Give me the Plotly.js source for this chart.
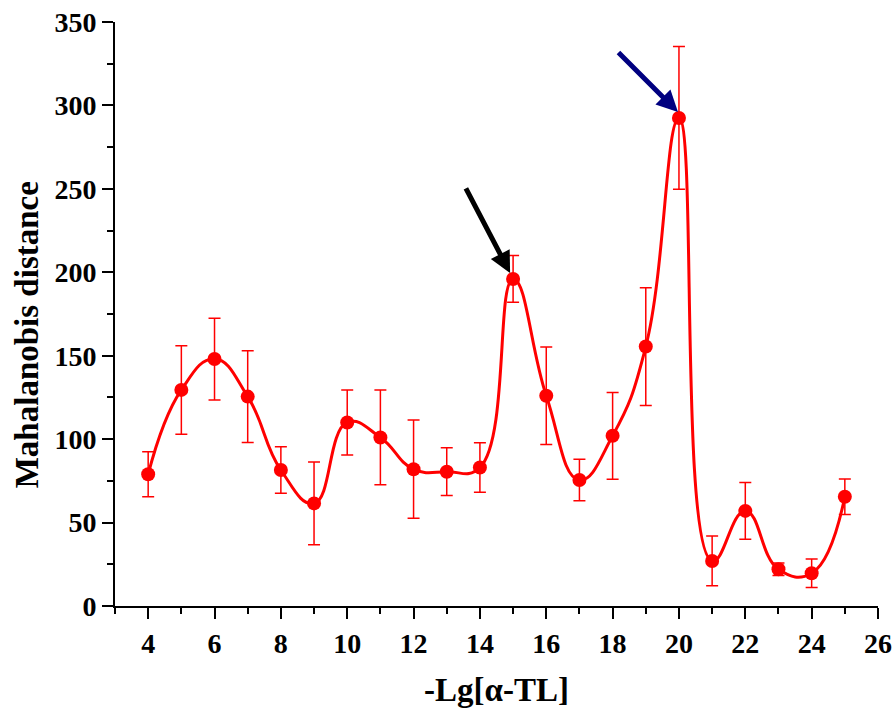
<!DOCTYPE html>
<html>
<head>
<meta charset="utf-8">
<script src="https://cdn.plot.ly/plotly-3.0.1.min.js"></script>
<style>html,body{margin:0;padding:0;background:#fff;}#chart{width:893px;height:708px;}</style>
</head>
<body>
<div id="chart"></div>
<script>
const xValues = [4,5,6,7,8,9,10,11,12,13,14,15,16,17,18,19,20,21,22,23,24,25];
const distance = [79,129.5,148,125.5,81.5,61.5,110,101,82,80.5,83,196,126,75.5,102,155.5,292.5,27,57,22,19.6,65.5];
const errors = [13.5,26.5,24.5,27.5,14,24.8,19.5,28.4,29.4,14.3,14.8,14,29.2,12.4,26,35.3,42.8,14.9,17,3.7,8.5,10.6];
const xTickVals = [4,6,8,10,12,14,16,18,20,22,24,26];
const yTickVals = [0,50,100,150,200,250,300,350];

const font = "'Liberation Serif', 'Times New Roman', serif";
const trace = {
  x: xValues, y: distance, type: 'scatter', mode: 'lines+markers',
  line: {color: '#ff0000', width: 3, shape: 'spline', smoothing: 1.3},
  marker: {color: '#ff0000', size: 14, symbol: 'circle'},
  error_y: {type: 'data', array: errors, visible: true, color: '#ff0000', thickness: 1.5, width: 6},
  hoverinfo: 'x+y'
};
const axisCommon = {
  showline: true, linecolor: '#000', linewidth: 2, ticks: 'outside', ticklen: 11,
  tickwidth: 2, tickcolor: '#000', showgrid: false, zeroline: false, mirror: false,
  tickfont: {family: font, size: 28, color: '#000', weight: 'bold'}
};
const layout = {
  width: 893, height: 708,
  margin: {l: 115, r: 15, t: 22, b: 102},
  paper_bgcolor: '#fff', plot_bgcolor: '#fff',
  showlegend: false,
  xaxis: Object.assign({}, axisCommon, {
    range: [3, 26], tickvals: xTickVals, ticktext: xTickVals.map(String),
    minor: {dtick: 1, tick0: 3, ticks: 'outside', ticklen: 6, tickwidth: 2, tickcolor: '#000'},
    title: {text: '-Lg[α-TL]', font: {family: font, size: 33, color: '#000', weight: 'bold'}, standoff: 24}
  }),
  yaxis: Object.assign({}, axisCommon, {
    range: [0, 350], tickvals: yTickVals, ticktext: yTickVals.map(String),
    minor: {dtick: 25, tick0: 0, ticks: 'outside', ticklen: 6, tickwidth: 2, tickcolor: '#000'}
  }),
  annotations: [
    {text: 'Mahalanobis distance', xref: 'paper', yref: 'paper', x: -0.115, y: 0.464,
     xanchor: 'center', yanchor: 'middle', textangle: -90, showarrow: false,
     font: {family: font, size: 33, color: '#000', weight: 'bold'}},
    {x: 14.91, y: 199.6, xref: 'x', yref: 'y', ax: -45, ay: -86, showarrow: true, arrowhead: 2, arrowsize: 0.85, arrowwidth: 5, arrowcolor: '#000', text: ''},
    {x: 19.97, y: 296, xref: 'x', yref: 'y', ax: -61, ay: -61, showarrow: true, arrowhead: 2, arrowsize: 0.85, arrowwidth: 5, arrowcolor: '#000080', text: ''}
  ]
};
Plotly.newPlot('chart', [trace], layout, {displayModeBar: false, staticPlot: true});
</script>
</body>
</html>
